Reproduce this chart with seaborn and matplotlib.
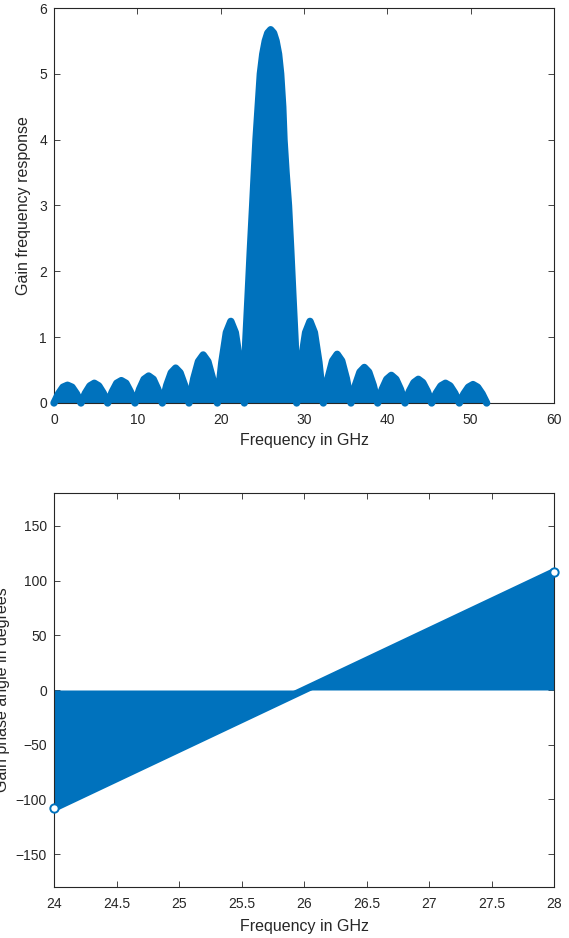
import numpy as np
import matplotlib
matplotlib.use("Agg")
import matplotlib.pyplot as plt
import seaborn as sns
import pandas as pd

# envelope of the gain stems (lobe by lobe)
gain_freq = [0.0, 0.54, 1.08, 1.62, 2.16, 2.70, 3.24,
             3.77, 4.31, 4.84, 5.37, 5.91, 6.44,
             6.99, 7.53, 8.08, 8.63, 9.17, 9.72,
             10.27, 10.81, 11.36, 11.91, 12.45, 13.0,
             13.53, 14.07, 14.6, 15.13, 15.67, 16.2,
             16.77, 17.33, 17.9, 18.47, 19.03, 19.6,
             20.14, 20.68, 21.22, 21.76, 22.3, 22.84,
             23.0, 23.28, 23.55, 23.84, 24.04, 24.24, 24.5, 24.76, 25.05, 25.35, 25.65,
             26.0,
             26.35, 26.65, 26.95, 27.2, 27.45, 27.6, 27.85, 28.14, 28.42, 28.68, 28.95, 29.12,
             29.65, 30.19, 30.72, 31.25, 31.79, 32.32,
             32.87, 33.43, 33.98, 34.53, 35.09, 35.64,
             36.17, 36.71, 37.24, 37.77, 38.31, 38.84,
             39.39, 39.93, 40.48, 41.03, 41.57, 42.12,
             42.65, 43.19, 43.72, 44.25, 44.79, 45.32,
             45.87, 46.43, 46.98, 47.53, 48.09, 48.64,
             49.19, 49.73, 50.28, 50.83, 51.37, 51.92]
gain_mag = [0.0, 0.14, 0.24, 0.27, 0.24, 0.14, 0.0,
            0.15, 0.26, 0.30, 0.26, 0.15, 0.0,
            0.17, 0.30, 0.34, 0.30, 0.17, 0.0,
            0.21, 0.36, 0.41, 0.36, 0.21, 0.0,
            0.27, 0.46, 0.53, 0.46, 0.27, 0.0,
            0.37, 0.63, 0.73, 0.63, 0.37, 0.0,
            0.62, 1.07, 1.24, 1.07, 0.62, 0.0,
            0.9, 1.6, 2.3, 3.0, 3.5, 4.0, 4.5, 5.0, 5.3, 5.5, 5.62,
            5.67,
            5.62, 5.5, 5.3, 5.0, 4.5, 4.0, 3.5, 3.0, 2.3, 1.6, 0.9, 0.0,
            0.62, 1.07, 1.24, 1.07, 0.62, 0.0,
            0.37, 0.64, 0.74, 0.64, 0.37, 0.0,
            0.27, 0.47, 0.54, 0.47, 0.27, 0.0,
            0.21, 0.36, 0.42, 0.36, 0.21, 0.0,
            0.18, 0.31, 0.36, 0.31, 0.18, 0.0,
            0.15, 0.26, 0.30, 0.26, 0.15, 0.0,
            0.14, 0.24, 0.28, 0.24, 0.14, 0.0]

# phase stems: end points of the straight ramp
phase_freq = [24.0, 28.0]
phase_deg = [-108.0, 108.0]

gain_xticks = [0, 10, 20, 30, 40, 50, 60]
gain_yticks = [0, 1, 2, 3, 4, 5, 6]
phase_xticks = [24, 24.5, 25, 25.5, 26, 26.5, 27, 27.5, 28]
phase_xlabels = ['24', '24.5', '25', '25.5', '26', '26.5', '27', '27.5', '28']
phase_yticks = [-150, -100, -50, 0, 50, 100, 150]

gain = pd.DataFrame({'freq': gain_freq, 'mag': gain_mag})
phase = pd.DataFrame({'freq': phase_freq, 'deg': phase_deg})

sns.set_style('ticks')
plt.rcParams['font.family'] = ['Liberation Sans', 'DejaVu Sans']
blue = '#0072BD'
grey = '#262626'

fig = plt.figure(figsize=(5.69, 9.38), dpi=100)
ax1 = fig.add_axes([54 / 569, 1 - 403 / 938, 500 / 569, 395 / 938])
ax2 = fig.add_axes([54 / 569, 1 - 887 / 938, 500 / 569, 394 / 938])

line_kw = dict(estimator=None, sort=False, color=blue, linewidth=5.3,
               solid_joinstyle='round', solid_capstyle='round',
               clip_on=False, zorder=3)

# top: gain magnitude
ax1.fill_between(gain['freq'], 0, gain['mag'], color=blue, linewidth=0)
sns.lineplot(data=gain, x='freq', y='mag', ax=ax1, **line_kw)
ax1.set_xlim(0, 60)
ax1.set_ylim(0, 6)
ax1.set_xticks(gain_xticks)
ax1.set_yticks(gain_yticks)

# bottom: gain phase
ax2.fill_between(phase['freq'], 0, phase['deg'], color=blue, linewidth=0)
sns.lineplot(data=phase, x='freq', y='deg', ax=ax2, **line_kw)
ax2.plot(phase['freq'], phase['deg'], 'o', ms=6, mfc='white', mec=blue,
         mew=1.4, clip_on=False, zorder=4)
ax2.set_xlim(24, 28)
ax2.set_ylim(-180, 180)
ax2.set_xticks(phase_xticks)
ax2.set_xticklabels(phase_xlabels)
ax2.set_yticks(phase_yticks)

labels = [(ax1, 'Gain frequency response', -0.06, -0.096),
          (ax2, 'Gain phase angle in degrees', -0.102, -0.099)]
for ax, ylab, yx, xy in labels:
    for side in ['top', 'right', 'bottom', 'left']:
        ax.spines[side].set_visible(True)
        ax.spines[side].set_linewidth(0.8)
        ax.spines[side].set_color(grey)
    ax.tick_params(direction='in', top=True, right=True, length=4, width=0.6,
                   color=grey, labelcolor=grey, labelsize=10)
    ax.tick_params(axis='x', pad=7)
    ax.tick_params(axis='y', pad=5)
    ax.set_xlabel('Frequency in GHz', fontsize=11.5, color=grey)
    ax.set_ylabel(ylab, fontsize=11.5, color=grey)
    ax.xaxis.set_label_coords(0.5, xy)
    ax.xaxis.label.set_va('center')
    ax.yaxis.set_label_coords(yx, 0.5)
    ax.yaxis.label.set_va('center')

fig.savefig('out.png', dpi=100)
